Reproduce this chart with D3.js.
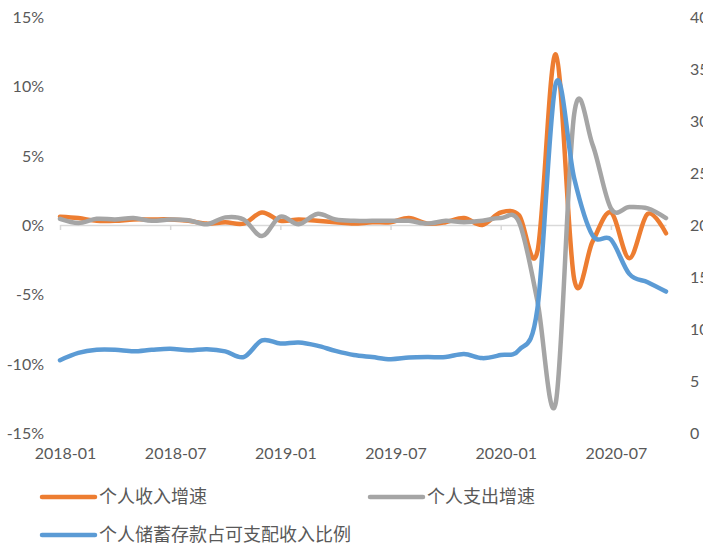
<!DOCTYPE html>
<html>
<head>
<meta charset="utf-8">
<script src="https://cdn.jsdelivr.net/npm/d3@7/dist/d3.min.js"></script>
<style>
  html, body { margin: 0; padding: 0; background: #fff; }
  svg { display: block; }
  .num { font-family: "Lato", "Noto Sans", sans-serif; font-size: 16px; fill: #595959; }
  .leg { font-family: "Noto Sans CJK SC", sans-serif; font-size: 18px; fill: #595959; }
</style>
</head>
<body>
<svg id="chart" width="703" height="546"></svg>
<script>
// Monthly observations, 2018-01 .. 2020-10
const months = [
  "2018-01","2018-02","2018-03","2018-04","2018-05","2018-06","2018-07","2018-08","2018-09","2018-10","2018-11","2018-12",
  "2019-01","2019-02","2019-03","2019-04","2019-05","2019-06","2019-07","2019-08","2019-09","2019-10","2019-11","2019-12",
  "2020-01","2020-02","2020-03","2020-04","2020-05","2020-06","2020-07","2020-08","2020-09","2020-10"
];
// 个人收入增速 (%, left axis)
const incomeGrowth = [
  0.6, 0.5, 0.3, 0.3, 0.4, 0.4, 0.4, 0.3, 0.1, 0.2, 0.1, 0.9,
  0.3, 0.4, 0.3, 0.2, 0.1, 0.2, 0.2, 0.5, 0.1, 0.2, 0.5, 0.0,
  0.9, 0.7, -1.9, 12.3, -3.9, -1.2, 0.9, -2.4, 0.8, -0.6
];
// 个人支出增速 (%, left axis)
const spendingGrowth = [
  0.45, 0.15, 0.45, 0.4, 0.5, 0.3, 0.4, 0.35, 0.05, 0.55, 0.4, -0.8,
  0.6, 0.05, 0.8, 0.4, 0.3, 0.3, 0.3, 0.3, 0.1, 0.3, 0.2, 0.3,
  0.5, 0.2, -5.5, -12.8, 8.0, 5.8, 1.2, 1.3, 1.2, 0.5
];
// 个人储蓄存款占可支配收入比例 (%, right axis)
const savingRate = [
  7.0, 7.7, 8.0, 8.0, 7.85, 8.0, 8.1, 7.95, 8.05, 7.85, 7.3, 8.9,
  8.6, 8.7, 8.4, 7.9, 7.5, 7.3, 7.1, 7.25, 7.3, 7.3, 7.6, 7.2,
  7.5, 8.0, 12.0, 33.6, 24.5, 19.0, 18.6, 15.3, 14.5, 13.6
];
const leftTicks = [-15, -10, -5, 0, 5, 10, 15];
const rightTicks = [0, 5, 10, 15, 20, 25, 30, 35, 40];
const xTickIdx = [0, 6, 12, 18, 24, 30];

const series = [
  { name: "个人收入增速", values: incomeGrowth, axis: "left", color: "#ED7D31" },
  { name: "个人支出增速", values: spendingGrowth, axis: "left", color: "#A5A5A5" },
  { name: "个人储蓄存款占可支配收入比例", values: savingRate, axis: "right", color: "#5B9BD5" }
];

const svg = d3.select("#chart");

const x = d3.scaleLinear().domain([0, months.length - 1]).range([60, 666]);
const yL = d3.scaleLinear().domain([-15, 15]).range([433, 17]);
const yR = d3.scaleLinear().domain([0, 40]).range([433, 17]);

// Left value axis
const gL = svg.append("g").attr("transform", "translate(46,0)")
  .call(d3.axisLeft(yL).tickValues(leftTicks).tickSize(0).tickFormat(d => d + "%"));
gL.select(".domain").remove();
gL.selectAll("text").attr("class", "num").attr("x", -2).attr("dy", "0.35em");

// Right value axis (runs past the right edge of the canvas)
const gR = svg.append("g").attr("transform", "translate(688,0)")
  .call(d3.axisRight(yR).tickValues(rightTicks).tickSize(0));
gR.select(".domain").remove();
gR.selectAll("text").attr("class", "num").attr("x", 2).attr("dy", "0.35em");

// Category axis line at 0%
const gX = svg.append("g").attr("transform", `translate(0,${yL(0)})`)
  .call(d3.axisBottom(x).tickValues(xTickIdx).tickSize(5).tickSizeOuter(0).tickFormat(""));
gX.select(".domain").attr("stroke", "#D9D9D9").attr("stroke-width", 1.5);
gX.selectAll(".tick line").attr("stroke", "#D9D9D9").attr("stroke-width", 1.5);

// Category labels at the bottom of the plot
const gXl = svg.append("g").attr("transform", "translate(0,453)")
  .call(d3.axisBottom(x).tickValues(xTickIdx).tickSize(0).tickFormat(i => months[i]));
gXl.select(".domain").remove();
gXl.selectAll("text").attr("class", "num").attr("dx", 5).attr("dy", "0.35em").attr("y", 0);

// Smoothed lines
series.forEach(s => {
  const y = s.axis === "left" ? yL : yR;
  const line = d3.line()
    .x((d, i) => x(i))
    .y(d => y(d))
    .curve(d3.curveCardinal.tension(0));
  svg.append("path")
    .datum(s.values)
    .attr("d", line)
    .attr("fill", "none")
    .attr("stroke", s.color)
    .attr("stroke-width", 4.5)
    .attr("stroke-linecap", "round")
    .attr("stroke-linejoin", "round");
});

// Legend
const legendPos = [[40, 497], [368, 497], [40, 535]];
const leg = svg.append("g").selectAll("g").data(series).join("g")
  .attr("transform", (d, i) => `translate(${legendPos[i][0]},${legendPos[i][1]})`);
leg.append("line")
  .attr("x1", 2).attr("x2", 55).attr("y1", 0).attr("y2", 0)
  .attr("stroke", d => d.color).attr("stroke-width", 4.5).attr("stroke-linecap", "round");
leg.append("text").attr("class", "leg")
  .attr("x", 59).attr("y", 0).attr("dy", "0.35em")
  .text(d => d.name);
</script>
</body>
</html>
